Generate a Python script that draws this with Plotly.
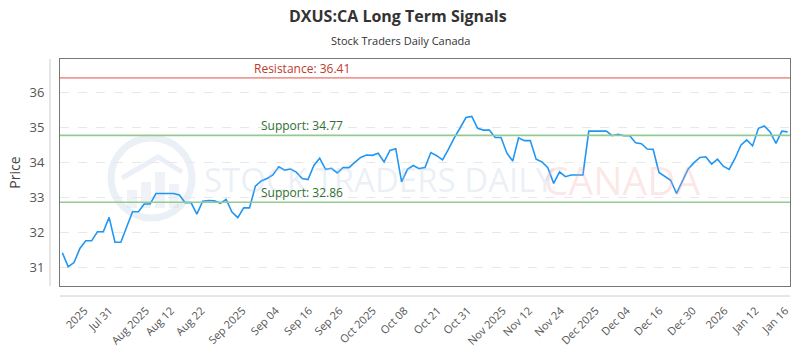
import plotly.graph_objects as go

# ---- data ----
prices = [
    31.42, 31.02, 31.14, 31.54, 31.76, 31.76, 32.02, 32.02, 32.43, 31.72,
    31.72, 32.16, 32.59, 32.59, 32.81, 32.81, 33.11, 33.11, 33.11, 33.11,
    33.07, 32.85, 32.85, 32.52, 32.89, 32.91, 32.90, 32.83, 32.94, 32.58,
    32.42, 32.70, 32.70, 33.32, 33.47, 33.54, 33.64, 33.87, 33.78, 33.81,
    33.72, 33.54, 33.51, 33.91, 34.12, 33.80, 33.83, 33.70, 33.85, 33.85,
    34.00, 34.14, 34.21, 34.20, 34.26, 34.01, 34.34, 34.39, 33.44, 33.80,
    33.91, 33.82, 33.85, 34.28, 34.19, 34.07, 34.37, 34.70, 34.98, 35.28,
    35.31, 34.97, 34.92, 34.92, 34.71, 34.71, 34.26, 34.04, 34.70, 34.62,
    34.62, 34.09, 34.01, 33.85, 33.40, 33.73, 33.59, 33.64, 33.64, 33.64,
    34.89, 34.89, 34.89, 34.89, 34.76, 34.80, 34.76, 34.76, 34.56, 34.53,
    34.38, 34.37, 33.71, 33.61, 33.49, 33.11, 33.47, 33.81, 33.99, 34.14,
    34.16, 33.95, 34.09, 33.89, 33.80, 34.11, 34.49, 34.64, 34.47, 34.97,
    35.04, 34.87, 34.54, 34.89, 34.87,
]
x_index = list(range(len(prices)))

tick_labels = ["2025", "Jul 31", "Aug 2025", "Aug 12", "Aug 22", "Sep 2025",
               "Sep 04", "Sep 16", "Sep 26", "Oct 2025", "Oct 08", "Oct 21",
               "Oct 31", "Nov 2025", "Nov 12", "Nov 24", "Dec 2025", "Dec 04",
               "Dec 16", "Dec 30", "2026", "Jan 12", "Jan 16"]
tick_index = [3.8, 8.05, 14.3, 18.6, 23.8, 30.8, 36.5, 42.2, 47.4, 53.1, 58.5,
              64.2, 69.3, 75.3, 79.8, 85.2, 91.2, 96.5, 102.1, 107.8, 113.2,
              118.5, 123.6]

y_ticks = [31, 32, 33, 34, 35, 36]

resistance_levels = [36.41]
support_levels = [34.77, 32.86]

title_text = "DXUS:CA Long Term Signals"
subtitle_text = "Stock Traders Daily Canada"

# ---- geometry helpers (pixels -> paper) ----
PL, PR, PT, PB = 60, 790, 59, 286
def px(xp):
    return (xp - PL) / (PR - PL)
def py(yp):
    return (PB - yp) / (PB - PT)

# ---- figure ----
fig = go.Figure()
fig.add_trace(go.Scatter(
    x=x_index, y=prices, mode="lines",
    line=dict(color="#2196f3", width=1.6),
    hoverinfo="skip", showlegend=False,
))

shapes = []
annotations = []

# watermark (logo + text)
wm_blue = "rgba(190,205,225,0.30)"
shapes.append(dict(type="circle", xref="paper", yref="paper",
                   x0=px(111), x1=px(192), y0=py(218), y1=py(138),
                   line=dict(color=wm_blue, width=7),
                   fillcolor="rgba(0,0,0,0)", layer="below"))
roof = "M {} {} L {} {} L {} {}".format(px(122), py(178), px(158), py(157), px(182), py(172))
shapes.append(dict(type="path", xref="paper", yref="paper", path=roof,
                   line=dict(color=wm_blue, width=5), layer="below"))
for bx0, bx1, btop in [(127, 137, 190), (141, 151, 182), (155, 165, 172), (169, 179, 184)]:
    shapes.append(dict(type="rect", xref="paper", yref="paper",
                       x0=px(bx0), x1=px(bx1), y0=py(208), y1=py(btop),
                       line=dict(width=0), fillcolor="rgba(190,205,225,0.25)", layer="below"))
annotations.append(dict(xref="paper", yref="paper", x=px(202), y=py(179),
                        xanchor="left", yanchor="middle", showarrow=False,
                        text="STOCK TRADERS DAILY",
                        font=dict(family="Open Sans", size=33,
                                  color="rgba(185,200,225,0.28)")))
annotations.append(dict(xref="paper", yref="paper", x=px(542), y=py(179),
                        xanchor="left", yanchor="middle", showarrow=False,
                        text="CANADA",
                        font=dict(family="Open Sans", size=39,
                                  color="rgba(245,160,160,0.25)")))

# level lines
for lv in resistance_levels:
    shapes.append(dict(type="line", xref="paper", yref="y", x0=0, x1=1, y0=lv, y1=lv,
                       line=dict(color="#f19a94", width=1.6)))
    annotations.append(dict(xref="paper", yref="y", x=px(302), y=lv, yanchor="bottom",
                            xanchor="center", showarrow=False, yshift=-1,
                            text=f"Resistance: {lv:.2f}",
                            font=dict(family="Open Sans", size=12, color="#c0392b")))
for lv in support_levels:
    shapes.append(dict(type="line", xref="paper", yref="y", x0=0, x1=1, y0=lv, y1=lv,
                       line=dict(color="#93c993", width=1.6)))
    annotations.append(dict(xref="paper", yref="y", x=px(302), y=lv, yanchor="bottom",
                            xanchor="center", showarrow=False, yshift=-1,
                            text=f"Support: {lv:.2f}",
                            font=dict(family="Open Sans", size=12, color="#2e7031")))

# offset axis lines
shapes.append(dict(type="line", xref="paper", yref="paper", x0=px(50), x1=px(50),
                   y0=0, y1=1, line=dict(color="#cccccc", width=1)))
shapes.append(dict(type="line", xref="paper", yref="paper", x0=0, x1=1,
                   y0=py(296), y1=py(296), line=dict(color="#cccccc", width=1)))

# titles
annotations.append(dict(xref="paper", yref="paper", x=px(398), y=py(16),
                        xanchor="center", yanchor="middle", showarrow=False,
                        text=f"<b>{title_text}</b>",
                        font=dict(family="Open Sans", size=16, color="#333333")))
annotations.append(dict(xref="paper", yref="paper", x=px(400), y=py(40),
                        xanchor="center", yanchor="middle", showarrow=False,
                        text=subtitle_text,
                        font=dict(family="Open Sans", size=11, color="#333333")))

fig.update_layout(
    width=800, height=350,
    margin=dict(l=PL, r=800 - PR, t=PT, b=350 - PB, autoexpand=False),
    paper_bgcolor="white", plot_bgcolor="white",
    shapes=shapes, annotations=annotations,
    font=dict(family="Open Sans", color="#555555"),
)
fig.update_xaxes(
    range=[-0.4, 124.4], tickmode="array", tickvals=tick_index, ticktext=tick_labels,
    tickangle=-45, tickfont=dict(size=11, color="#555555"),
    showgrid=False, zeroline=False, automargin=False,
    showline=True, mirror=True, linecolor="#777777", linewidth=1,
    ticks="outside", ticklen=13, tickcolor="rgba(0,0,0,0)",
)
fig.update_yaxes(
    range=[30.47, 36.95], tickmode="array", tickvals=y_ticks,
    tickfont=dict(size=13, color="#555555"),
    showgrid=True, gridcolor="#e8e8e8", griddash="dash", gridwidth=1,
    zeroline=False, automargin=False,
    showline=True, mirror=True, linecolor="#777777", linewidth=1,
    ticks="outside", ticklen=12, tickcolor="rgba(0,0,0,0)",
    title=dict(text="Price", font=dict(size=14, color="#444444"), standoff=5),
)

fig.write_html("out.html")
